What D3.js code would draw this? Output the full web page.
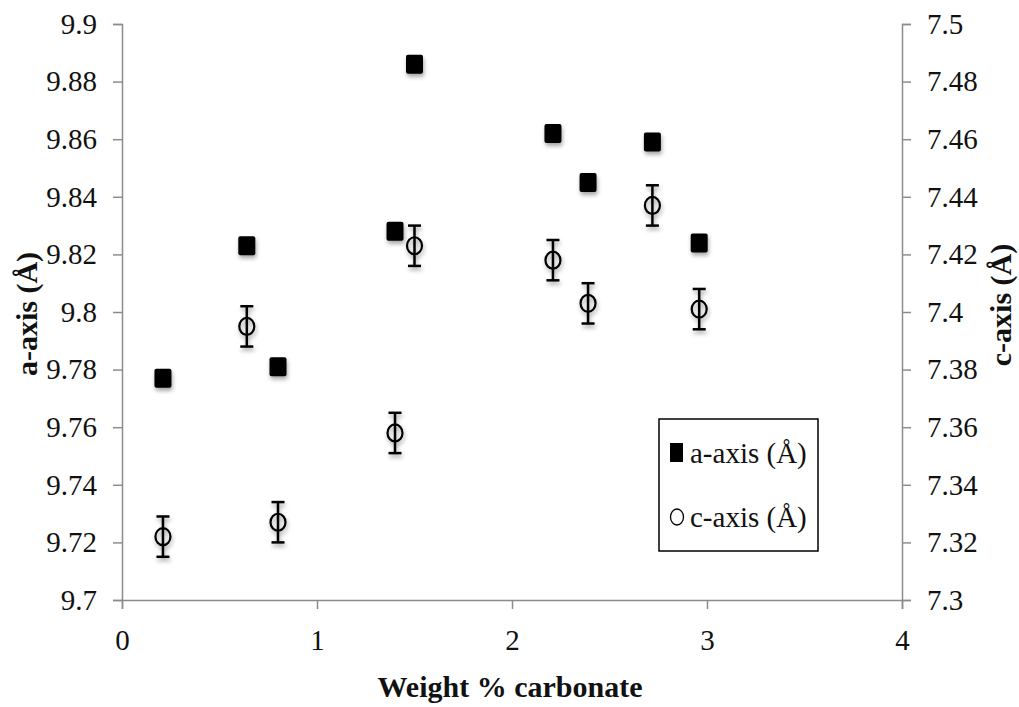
<!DOCTYPE html>
<html lang="en">
<head>
<meta charset="utf-8">
<title>Lattice parameters vs carbonate</title>
<script src="https://d3js.org/d3.v7.min.js"></script>
<style>
  body { margin: 0; background: #fff; }
  svg text { font-family: "Liberation Serif", "Times New Roman", serif; fill: #111; }
  .axis path, .axis line { stroke: #8c8c8c; stroke-width: 1.5; }
  .axis text { font-size: 29px; }
  .title { font-weight: bold; font-size: 30px; }
</style>
</head>
<body>
<svg id="chart" width="1019" height="707"></svg>
<script>
// values
var weightPct = [0.21, 0.64, 0.80, 1.40, 1.50, 2.21, 2.39, 2.72, 2.96];
var aAxis     = [9.777, 9.823, 9.781, 9.828, 9.886, 9.862, 9.845, 9.859, 9.824];
var cAxis     = [7.322, 7.395, 7.327, 7.358, 7.423, 7.418, 7.403, 7.437, 7.401];
var cErr      = [0.007, 0.007, 0.007, 0.007, 0.007, 0.007, 0.007, 0.007, 0.007];

var xTicks = [0, 1, 2, 3, 4];
var aTicks = [9.7, 9.72, 9.74, 9.76, 9.78, 9.8, 9.82, 9.84, 9.86, 9.88, 9.9];
var cTicks = [7.3, 7.32, 7.34, 7.36, 7.38, 7.4, 7.42, 7.44, 7.46, 7.48, 7.5];
var legendLabels = ["a-axis (Å)", "c-axis (Å)"];

var svg = d3.select("#chart");
var pLeft = 122, pRight = 902, pTop = 24, pBottom = 600;

var x = d3.scaleLinear().domain([0, 4]).range([pLeft, pRight]);
var yA = d3.scaleLinear().domain([9.7, 9.9]).range([pBottom, pTop]);
var yC = d3.scaleLinear().domain([7.3, 7.5]).range([pBottom, pTop]);

var fmt = function(d) { return String(+d.toFixed(2)); };
var serif = "'Liberation Serif', 'Times New Roman', serif";

// soft shadow like the original
var f = svg.append("defs").append("filter").attr("id", "shadow")
  .attr("x", "-50%").attr("y", "-50%").attr("width", "200%").attr("height", "200%");
f.append("feDropShadow").attr("dx", 1).attr("dy", 3).attr("stdDeviation", 2)
  .attr("flood-color", "#000").attr("flood-opacity", 0.35);

// axes
svg.append("g").attr("class", "axis").attr("transform", "translate(0," + pBottom + ")")
  .call(d3.axisBottom(x).tickValues(xTicks).tickSize(9).tickPadding(20).tickFormat(d3.format("d")));
svg.append("g").attr("class", "axis").attr("transform", "translate(" + pLeft + ",0)")
  .call(d3.axisLeft(yA).tickValues(aTicks).tickSize(9).tickPadding(16).tickFormat(fmt));
svg.append("g").attr("class", "axis").attr("transform", "translate(" + pRight + ",0)")
  .call(d3.axisRight(yC).tickValues(cTicks).tickSize(9).tickPadding(16).tickFormat(fmt));
svg.selectAll(".axis").attr("font-family", serif).attr("font-size", 29);
svg.selectAll(".axis .domain").attr("stroke", "#8c8c8c");
svg.selectAll(".axis .tick text").attr("fill", "#111");

// titles
svg.append("text").attr("class", "title").attr("text-anchor", "middle")
  .attr("x", 510).attr("y", 697).text("Weight % carbonate");
svg.append("text").attr("class", "title").attr("text-anchor", "middle")
  .attr("transform", "translate(37,314) rotate(-90)").text("a-axis (Å)");
svg.append("text").attr("class", "title").attr("text-anchor", "middle")
  .attr("transform", "translate(1011,305) rotate(-90)").text("c-axis (Å)");

var data = weightPct.map(function(w, i) {
  return { w: w, a: aAxis[i], c: cAxis[i], e: cErr[i] };
});

// c-axis error bars and circles
var cg = svg.append("g").attr("filter", "url(#shadow)");
var eb = cg.selectAll("g.err").data(data).enter().append("g").attr("class", "err")
  .attr("stroke", "#000").attr("stroke-width", 2.5);
eb.append("line")
  .attr("x1", function(d) { return x(d.w); }).attr("x2", function(d) { return x(d.w); })
  .attr("y1", function(d) { return yC(d.c + d.e); }).attr("y2", function(d) { return yC(d.c - d.e); });
eb.append("line")
  .attr("x1", function(d) { return x(d.w) - 6.5; }).attr("x2", function(d) { return x(d.w) + 6.5; })
  .attr("y1", function(d) { return yC(d.c + d.e); }).attr("y2", function(d) { return yC(d.c + d.e); });
eb.append("line")
  .attr("x1", function(d) { return x(d.w) - 6.5; }).attr("x2", function(d) { return x(d.w) + 6.5; })
  .attr("y1", function(d) { return yC(d.c - d.e); }).attr("y2", function(d) { return yC(d.c - d.e); });
cg.selectAll("ellipse").data(data).enter().append("ellipse")
  .attr("cx", function(d) { return x(d.w); })
  .attr("cy", function(d) { return yC(d.c); })
  .attr("rx", 7.5).attr("ry", 8.5)
  .attr("fill", "none").attr("stroke", "#000").attr("stroke-width", 2.2);

// a-axis squares
svg.append("g").attr("filter", "url(#shadow)").selectAll("rect").data(data).enter().append("rect")
  .attr("x", function(d) { return x(d.w) - 8.5; })
  .attr("y", function(d) { return yA(d.a) - 9.5; })
  .attr("width", 17).attr("height", 19).attr("rx", 2)
  .attr("fill", "#000");

// legend
var lg = svg.append("g");
lg.append("rect").attr("x", 659).attr("y", 419).attr("width", 159).attr("height", 132)
  .attr("fill", "#fff").attr("stroke", "#000").attr("stroke-width", 1.5);
lg.append("rect").attr("x", 670).attr("y", 443).attr("width", 13).attr("height", 19).attr("fill", "#000");
lg.append("ellipse").attr("cx", 677).attr("cy", 517).attr("rx", 6.5).attr("ry", 8)
  .attr("fill", "none").attr("stroke", "#000").attr("stroke-width", 1.3);
lg.selectAll("text.lab").data(legendLabels).enter().append("text").attr("class", "lab")
  .attr("x", 690).attr("y", function(d, i) { return 463 + i * 64; })
  .style("font-size", "29px").text(function(d) { return d; });
</script>
</body>
</html>
